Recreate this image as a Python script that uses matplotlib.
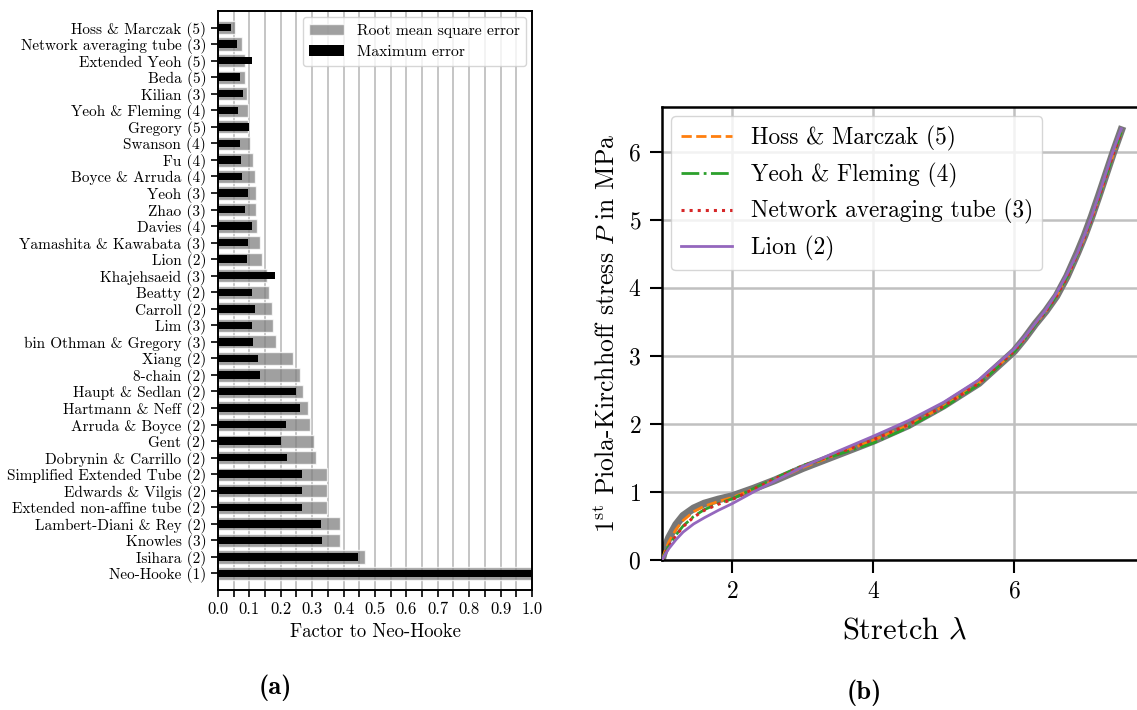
# Recreate the hyperelastic model comparison figure: (a) error bars, (b) stress-stretch curves
from matplotlib import pyplot as plt
from matplotlib.ticker import MultipleLocator, FormatStrFormatter
import numpy as np

# (a) models, top to bottom, with their error factors relative to Neo-Hooke
models = ['Hoss & Marczak (5)', 'Network averaging tube (3)', 'Extended Yeoh (5)', 'Beda (5)',
          'Kilian (3)', 'Yeoh & Fleming (4)', 'Gregory (5)', 'Swanson (4)', 'Fu (4)',
          'Boyce & Arruda (4)', 'Yeoh (3)', 'Zhao (3)', 'Davies (4)', 'Yamashita & Kawabata (3)',
          'Lion (2)', 'Khajehsaeid (3)', 'Beatty (2)', 'Carroll (2)', 'Lim (3)',
          'bin Othman & Gregory (3)', 'Xiang (2)', '8-chain (2)', 'Haupt & Sedlan (2)',
          'Hartmann & Neff (2)', 'Arruda & Boyce (2)', 'Gent (2)', 'Dobrynin & Carrillo (2)',
          'Simplified Extended Tube (2)', 'Edwards & Vilgis (2)', 'Extended non-affine tube (2)',
          'Lambert-Diani & Rey (2)', 'Knowles (3)', 'Isihara (2)', 'Neo-Hooke (1)']
rms_error = [0.054, 0.078, 0.085, 0.086, 0.093, 0.096, 0.097, 0.101, 0.110, 0.117, 0.120, 0.121,
             0.124, 0.135, 0.140, 0.155, 0.163, 0.171, 0.176, 0.186, 0.239, 0.262, 0.271, 0.288,
             0.293, 0.305, 0.312, 0.348, 0.348, 0.348, 0.388, 0.389, 0.468, 1.0]
max_error = [0.041, 0.061, 0.109, 0.070, 0.080, 0.064, 0.099, 0.070, 0.073, 0.077, 0.096, 0.087,
             0.109, 0.097, 0.094, 0.182, 0.109, 0.118, 0.109, 0.113, 0.128, 0.134, 0.247, 0.262,
             0.217, 0.201, 0.220, 0.268, 0.268, 0.268, 0.329, 0.332, 0.447, 1.0]

# (b) stretch and first Piola-Kirchhoff stress in MPa
stretch = [1.0, 1.05, 1.1, 1.2, 1.3, 1.45, 1.6, 1.8, 2.0, 2.3, 2.6, 3.0, 3.5, 4.0, 4.5, 5.0,
           5.5, 6.0, 6.15, 6.3, 6.45, 6.6, 6.75, 6.9, 7.0, 7.1, 7.2, 7.3, 7.4, 7.52]
stress_exp = [0.0, 0.2, 0.33, 0.52, 0.65, 0.76, 0.83, 0.89, 0.94, 1.05, 1.17, 1.35, 1.55, 1.75,
              1.98, 2.27, 2.6, 3.07, 3.26, 3.47, 3.66, 3.88, 4.17, 4.52, 4.77, 5.05, 5.35,
              5.66, 5.97, 6.32]
stress_hoss = [0.0, 0.15, 0.27, 0.45, 0.58, 0.71, 0.79, 0.86, 0.92, 1.04, 1.17, 1.36, 1.56, 1.76,
               1.98, 2.26, 2.6, 3.07, 3.26, 3.47, 3.66, 3.88, 4.16, 4.5, 4.75, 5.02, 5.32,
               5.63, 5.94, 6.29]
stress_yeoh = [0.0, 0.11, 0.21, 0.37, 0.5, 0.64, 0.74, 0.83, 0.9, 1.05, 1.2, 1.39, 1.55, 1.72,
               1.95, 2.24, 2.58, 3.06, 3.25, 3.46, 3.65, 3.88, 4.16, 4.5, 4.75, 5.02, 5.32,
               5.63, 5.94, 6.29]
stress_network = [0.0, 0.1, 0.2, 0.36, 0.49, 0.63, 0.73, 0.82, 0.89, 1.04, 1.19, 1.38, 1.57, 1.77,
                  1.99, 2.26, 2.6, 3.07, 3.26, 3.47, 3.66, 3.88, 4.16, 4.5, 4.75, 5.02, 5.32,
                  5.64, 5.95, 6.29]
stress_lion = [0.0, 0.09, 0.17, 0.3, 0.41, 0.53, 0.62, 0.73, 0.83, 1.0, 1.16, 1.37, 1.6, 1.82,
               2.05, 2.32, 2.65, 3.1, 3.28, 3.48, 3.68, 3.92, 4.2, 4.52, 4.78, 5.05, 5.36,
               5.68, 6.0, 6.34]
curve_labels = ['Hoss & Marczak (5)', 'Yeoh & Fleming (4)', 'Network averaging tube (3)', 'Lion (2)']

plt.rcParams['font.family'] = ['cmr10']
plt.rcParams['mathtext.fontset'] = 'cm'
plt.rcParams['axes.formatter.use_mathtext'] = True
plt.rcParams['axes.unicode_minus'] = False


def draw_bars(ax):
    """left panel: error factors"""
    pos = np.arange(len(models))[::-1]
    ax.barh(pos, rms_error, height=0.8, color='gray', alpha=0.75, edgecolor='white',
            linewidth=1, label='Root mean square error', zorder=2)
    ax.barh(pos, max_error, height=0.45, color='black', label='Maximum error', zorder=3)
    ax.set_yticks(pos)
    ax.set_yticklabels(models, fontsize=11)
    ax.set_ylim(-1, len(models))
    ax.set_xlim(0, 1.0)
    ax.xaxis.set_major_locator(MultipleLocator(0.1))
    ax.xaxis.set_minor_locator(MultipleLocator(0.05))
    ax.xaxis.set_major_formatter(FormatStrFormatter('%.1f'))
    ax.tick_params(axis='x', labelsize=12)
    ax.grid(axis='x', which='both', color='#c0c0c0', linewidth=1.3, zorder=0)
    ax.set_axisbelow(True)
    ax.tick_params(axis='both', which='both', direction='out', length=5, width=1.2)
    ax.set_xlabel('Factor to Neo-Hooke', fontsize=13.5)
    for s in ax.spines.values():
        s.set_linewidth(1.4)
    ax.legend(loc='upper right', fontsize=11.3, framealpha=0.8, handlelength=2.2,
              borderaxespad=0.4)


def draw_curves(ax):
    """right panel: stress-stretch curves"""
    ax.plot(stretch, stress_exp, color='#777777', linewidth=5.5, zorder=2)
    ax.plot(stretch, stress_hoss, '--', color='tab:orange', linewidth=2, label=curve_labels[0], zorder=3)
    ax.plot(stretch, stress_yeoh, '-.', color='tab:green', linewidth=2, label=curve_labels[1], zorder=3)
    ax.plot(stretch, stress_network, ':', color='tab:red', linewidth=2.2, label=curve_labels[2], zorder=3)
    ax.plot(stretch, stress_lion, '-', color='tab:purple', linewidth=2, label=curve_labels[3], zorder=3)
    ax.set_xlim(1, 7.9)
    ax.set_ylim(0, 6.66)
    ax.set_xticks([2, 4, 6])
    ax.set_yticks([0, 1, 2, 3, 4, 5, 6])
    ax.tick_params(labelsize=17, length=9, width=1.5, pad=6)
    ax.grid(color='#c0c0c0', linewidth=1.8, zorder=0)
    ax.set_axisbelow(True)
    ax.spines['right'].set_visible(False)
    for s in ['left', 'top', 'bottom']:
        ax.spines[s].set_linewidth(1.8)
    ax.set_xlabel(r'Stretch $\lambda$', fontsize=22, labelpad=10)
    ax.set_ylabel(r'1$^{\mathrm{st}}$ Piola-Kirchhoff stress $P$ in MPa', fontsize=18.5, labelpad=6)
    ax.legend(loc='upper left', fontsize=16.8, framealpha=0.8, handlelength=2.2,
              borderaxespad=0.4)


def main():
    fig = plt.figure(figsize=(11.37, 7.1), dpi=100)
    ax1 = fig.add_axes([0.1917, 0.169, 0.2762, 0.8155])
    ax2 = fig.add_axes([0.5822, 0.2113, 0.4275, 0.638])
    draw_bars(ax1)
    draw_curves(ax2)
    fig.text(275 / 1137, 1 - 688 / 710, '(a)', family='cmb10', fontsize=19, ha='center', va='center')
    fig.text(864 / 1137, 1 - 693 / 710, '(b)', family='cmb10', fontsize=19, ha='center', va='center')
    fig.savefig('out.png', dpi=100)


if __name__ == '__main__':
    main()
